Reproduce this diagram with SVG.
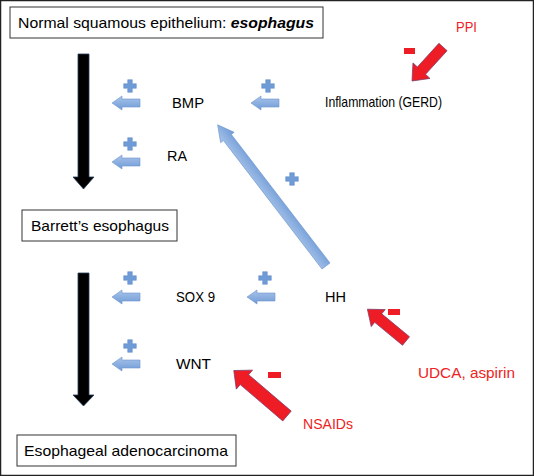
<svg xmlns="http://www.w3.org/2000/svg" width="534" height="476" viewBox="0 0 534 476">
<defs>
<linearGradient id="bg" x1="0" y1="0" x2="0" y2="1">
<stop offset="0" stop-color="#a9c4ea"/>
<stop offset="1" stop-color="#6f9bd6"/>
</linearGradient>
<g id="bluesmall">
<polygon points="0,0 10,-7 10,-4 28,-4 28,4 10,4 10,7" fill="url(#bg)" stroke="#6d95cc" stroke-width="0.6"/>
</g>
<g id="plus">
<path d="M-2.3,-6.3 h4.6 v4 h4 v4.6 h-4 v4 h-4.6 v-4 h-4 v-4.6 h4 z" fill="#6f9bd6" stroke="#5a87c6" stroke-width="0.5"/>
</g>
</defs>
<style>
.t{font-family:"Liberation Sans",Arial,sans-serif;font-size:15px;fill:#000}
.r{font-family:"Liberation Sans",Arial,sans-serif;font-size:14px;fill:#ee2222}
.box{fill:#fff;stroke:#333;stroke-width:1}
.red{fill:#ee1c25;stroke:#7a3b6a;stroke-width:0.7}
.minus{fill:#ee1c25}
.black{fill:#000;stroke:#27405e;stroke-width:0.8}
</style>
<rect x="0.5" y="0.5" width="533" height="475" fill="#fff" stroke="#222" stroke-width="1.5"/>

<g id="node-normal">
<rect class="box" x="10" y="7" width="313" height="31"/>
<text class="t" x="18" y="28" font-size="16" textLength="296" lengthAdjust="spacingAndGlyphs">Normal squamous epithelium: <tspan font-weight="bold" font-style="italic">esophagus</tspan></text>
</g>
<g id="node-barrett">
<rect class="box" x="22" y="210" width="155" height="31"/>
<text class="t" x="31" y="231" font-size="16" textLength="138" lengthAdjust="spacingAndGlyphs">Barrett’s esophagus</text>
</g>
<g id="node-adeno">
<rect class="box" x="17" y="435" width="219" height="31"/>
<text class="t" x="24" y="456" font-size="16" textLength="204" lengthAdjust="spacingAndGlyphs">Esophageal adenocarcinoma</text>
</g>
<g id="node-bmp"><text class="t" x="172" y="108" textLength="32" lengthAdjust="spacingAndGlyphs">BMP</text></g>
<g id="node-ra"><text class="t" x="167" y="161" textLength="20" lengthAdjust="spacingAndGlyphs">RA</text></g>
<g id="node-inflammation"><text class="t" x="325" y="107" font-size="12" textLength="117" lengthAdjust="spacingAndGlyphs">Inflammation (GERD)</text></g>
<g id="node-sox9"><text class="t" x="176" y="302" textLength="39" lengthAdjust="spacingAndGlyphs">SOX 9</text></g>
<g id="node-hh"><text class="t" x="325" y="302" textLength="21" lengthAdjust="spacingAndGlyphs">HH</text></g>
<g id="node-wnt"><text class="t" x="176" y="369" textLength="35" lengthAdjust="spacingAndGlyphs">WNT</text></g>
<g id="node-ppi"><text class="r" x="456" y="32" textLength="21" lengthAdjust="spacingAndGlyphs">PPI</text></g>
<g id="node-udca"><text class="r" x="418" y="378" font-size="15" textLength="97" lengthAdjust="spacingAndGlyphs">UDCA, aspirin</text></g>
<g id="node-nsaids"><text class="r" x="303" y="429" font-size="15" textLength="50" lengthAdjust="spacingAndGlyphs">NSAIDs</text></g>

<g id="connectors">
<!-- black progression arrows -->
<polygon class="black" points="78,54 89,54 89,177 94,177 83.5,189 73,177 78,177"/>
<polygon class="black" points="78,273 89,273 89,395 94,395 83.5,406 73,395 78,395"/>

<!-- small blue arrows -->
<use href="#bluesmall" x="112" y="103"/>
<use href="#plus" x="130" y="86"/>
<use href="#bluesmall" x="251" y="103"/>
<use href="#plus" x="268" y="86"/>
<use href="#bluesmall" x="112" y="162"/>
<use href="#plus" x="130" y="144"/>
<use href="#bluesmall" x="112" y="297"/>
<use href="#plus" x="130" y="278"/>
<use href="#bluesmall" x="247" y="297"/>
<use href="#plus" x="265" y="278"/>
<use href="#bluesmall" x="112" y="364"/>
<use href="#plus" x="130" y="346"/>

<!-- big diagonal blue arrow HH -> BMP -->
<g transform="translate(326,266) rotate(-127.5)">
<polygon points="0,-5 162,-5 162,-8.5 178,0 162,8.5 162,5 0,5" fill="url(#bg)" stroke="#6d95cc" stroke-width="0.6"/>
</g>
<use href="#plus" x="292" y="179"/>

<!-- red inhibitory arrows -->
<g transform="translate(443,47) rotate(132.3)">
<polygon class="red" points="0,-5.5 32,-5.5 32,-11.5 46,0 32,11.5 32,5.5 0,5.5"/>
</g>
<rect class="minus" x="404" y="48" width="11" height="6"/>

<g transform="translate(406,341) rotate(-140.5)">
<polygon class="red" points="0,-5.5 36,-5.5 36,-11 50,0 36,11 36,5.5 0,5.5"/>
</g>
<rect class="minus" x="388" y="309" width="12" height="6"/>

<g transform="translate(287,416) rotate(-139.5)">
<polygon class="red" points="0,-6.5 56,-6.5 56,-12.5 70,0 56,12.5 56,6.5 0,6.5"/>
</g>
<rect class="minus" x="268" y="372" width="13" height="6"/>
</g>
</svg>
